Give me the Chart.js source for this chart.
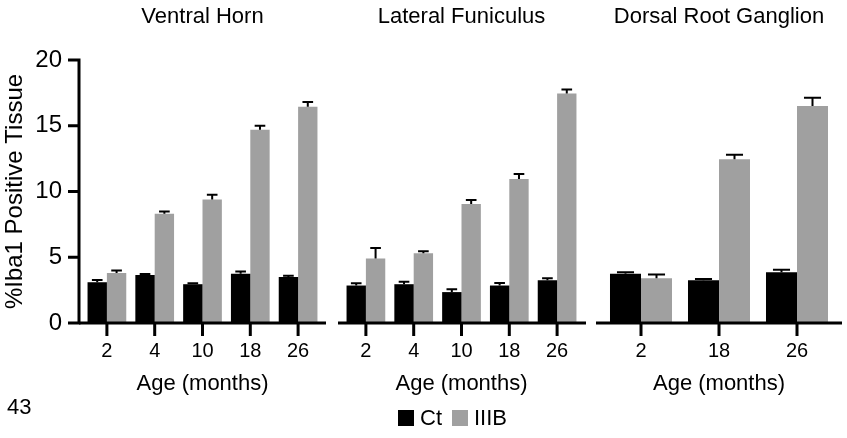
<!DOCTYPE html>
<html>
<head>
<meta charset="utf-8">
<script src="https://cdn.jsdelivr.net/npm/chart.js@4.4.1/dist/chart.umd.min.js"></script>
<style>
  html, body { margin: 0; padding: 0; background: #ffffff; }
  #wrap { position: relative; width: 847px; height: 438px; overflow: hidden; font-family: "Liberation Sans", Arial, sans-serif; color: #000; }
  canvas { position: absolute; top: 0; }
  #pageno { position: absolute; left: 7px; top: 396px; font-size: 22px; line-height: 22px; }
  #legend { position: absolute; left: 398px; top: 406px; display: flex; align-items: center; font-size: 22px; line-height: 24px; }
  #legend .item { display: flex; align-items: center; margin-right: 10px; }
  #legend .box { width: 16px; height: 16px; margin-right: 6px; }
</style>
</head>
<body>
<div id="wrap">
  <canvas id="c1" width="330" height="438" style="left:0px"></canvas>
  <canvas id="c2" width="256" height="438" style="left:332px"></canvas>
  <canvas id="c3" width="257" height="438" style="left:590px"></canvas>
  <div id="pageno">43</div>
  <div id="legend"></div>
</div>
<script>
// ---------------- data ----------------
const seriesNames = ['Ct', 'IIIB'];
const panelTitles = ['Ventral Horn', 'Lateral Funiculus', 'Dorsal Root Ganglion'];
const xTitle = 'Age (months)';
const yTitle = '%Iba1 Positive Tissue';
const yTicks = [0, 5, 10, 15, 20];

const agesVH = ['2', '4', '10', '18', '26'];
const ctVH = [3.1, 3.65, 2.95, 3.75, 3.5];
const ctVHErr = [0.17, 0.08, 0.08, 0.17, 0.1];
const iiibVH = [3.8, 8.3, 9.4, 14.7, 16.45];
const iiibVHErr = [0.2, 0.18, 0.35, 0.3, 0.35];

const agesLF = ['2', '4', '10', '18', '26'];
const ctLF = [2.85, 2.95, 2.35, 2.85, 3.25];
const ctLFErr = [0.18, 0.18, 0.22, 0.2, 0.15];
const iiibLF = [4.9, 5.3, 9.05, 10.95, 17.45];
const iiibLFErr = [0.8, 0.15, 0.3, 0.38, 0.3];

const agesDRG = ['2', '18', '26'];
const ctDRG = [3.75, 3.25, 3.85];
const ctDRGErr = [0.1, 0.1, 0.2];
const iiibDRG = [3.4, 12.45, 16.5];
const iiibDRGErr = [0.28, 0.35, 0.62];

// ---------------- style ----------------
const FONT = '"Liberation Sans", Arial, sans-serif';
const colors = ['#000000', '#a0a0a0'];

// axes + error bars drawn through the chart's scales
const panelPlugin = {
  id: 'panelDecor',
  afterDatasetsDraw(chart, args, opts) {
    const ctx = chart.ctx;
    const { left, right, top, bottom } = chart.chartArea;
    const yScale = chart.scales.y;
    const xScale = chart.scales.x;
    ctx.save();
    ctx.strokeStyle = '#000';
    ctx.lineWidth = 2;
    chart.data.datasets.forEach((ds, di) => {
      const meta = chart.getDatasetMeta(di);
      meta.data.forEach((bar, i) => {
        const v = ds.data[i], e = ds.errors[i];
        const yTop = yScale.getPixelForValue(v + e);
        const yBar = yScale.getPixelForValue(v);
        const w = bar.width * 0.55;
        ctx.beginPath();
        ctx.moveTo(bar.x, yBar);
        ctx.lineTo(bar.x, yTop);
        ctx.moveTo(bar.x - w / 2, yTop);
        ctx.lineTo(bar.x + w / 2, yTop);
        ctx.stroke();
      });
    });
    ctx.lineWidth = 3;
    ctx.lineCap = 'butt';
    const extL = opts.extL, extR = opts.extR;
    ctx.beginPath();
    ctx.moveTo(left - extL, bottom);
    ctx.lineTo(right + extR, bottom);
    xScale.ticks.forEach((t, i) => {
      const px = xScale.getPixelForTick(i);
      ctx.moveTo(px, bottom);
      ctx.lineTo(px, bottom + 13);
    });
    ctx.stroke();
    if (opts.yAxis) {
      const ax = left - extL;
      ctx.beginPath();
      ctx.moveTo(ax, yScale.getPixelForValue(20) - 1.5);
      ctx.lineTo(ax, bottom + 1.5);
      yTicks.forEach(v => {
        const py = yScale.getPixelForValue(v);
        ctx.moveTo(ax - 11, py);
        ctx.lineTo(ax + 1.5, py);
      });
      ctx.stroke();
    }
    ctx.restore();
  }
};

function makePanel(canvasId, title, labels, ct, ctErr, iiib, iiibErr, opts) {
  const yAxis = opts.yAxis;
  return new Chart(document.getElementById(canvasId), {
    type: 'bar',
    data: {
      labels: labels,
      datasets: [
        { label: seriesNames[0], data: ct, errors: ctErr, backgroundColor: colors[0], borderWidth: 0,
          categoryPercentage: opts.catPct, barPercentage: 1.0 },
        { label: seriesNames[1], data: iiib, errors: iiibErr, backgroundColor: colors[1], borderWidth: 0,
          categoryPercentage: opts.catPct, barPercentage: 1.0 }
      ]
    },
    options: {
      responsive: false,
      animation: false,
      layout: { padding: { left: opts.padL, right: opts.padR, top: 0, bottom: 0 } },
      plugins: {
        legend: { display: false },
        tooltip: { enabled: false },
        title: {
          display: true, text: title, color: '#000', fullSize: false,
          font: { family: FONT, size: 22, weight: 'normal' },
          padding: { top: 4, bottom: 29.6 }
        },
        panelDecor: { extL: opts.extL, extR: opts.extR, yAxis: yAxis }
      },
      scales: {
        x: {
          type: 'category',
          offset: true,
          grid: { display: false, drawTicks: false, tickLength: 0 },
          border: { display: false },
          ticks: { color: '#000', font: { family: FONT, size: 20 }, padding: 16.5, maxRotation: 0, autoSkip: false },
          title: { display: true, text: xTitle, color: '#000', font: { family: FONT, size: 22 }, padding: { top: 0, bottom: 40.8 } },
          afterFit(s) { s.height = 115; }
        },
        y: {
          display: yAxis,
          min: 0, max: 20,
          grid: { display: false, drawTicks: false, tickLength: 0 },
          border: { display: false },
          ticks: { stepSize: 5, color: '#000', font: { family: FONT, size: 24 }, padding: 21 },
          title: { display: yAxis, text: yTitle, color: '#000', font: { family: FONT, size: 24 }, padding: { top: 1, bottom: 0 } },
          afterFit(s) { s.width = yAxis ? 83 : 0; }
        }
      }
    },
    plugins: [panelPlugin]
  });
}

const ch1 = makePanel('c1', panelTitles[0], agesVH, ctVH, ctVHErr, iiibVH, iiibVHErr,
  { yAxis: true, padL: 0, padR: 8, extL: 4, extR: 4, catPct: 0.81 });
const ch2 = makePanel('c2', panelTitles[1], agesLF, ctLF, ctLFErr, iiibLF, iiibLFErr,
  { yAxis: false, padL: 10, padR: 7, extL: 4, extR: 5, catPct: 0.81 });
const ch3 = makePanel('c3', panelTitles[2], agesDRG, ctDRG, ctDRGErr, iiibDRG, iiibDRGErr,
  { yAxis: false, padL: 12, padR: 11, extL: 6, extR: 6, catPct: 0.795 });

const legendEl = document.getElementById('legend');
ch2.data.datasets.forEach(ds => {
  const item = document.createElement('div');
  item.className = 'item';
  const box = document.createElement('span');
  box.className = 'box';
  box.style.background = ds.backgroundColor;
  const txt = document.createElement('span');
  txt.textContent = ds.label;
  item.appendChild(box);
  item.appendChild(txt);
  legendEl.appendChild(item);
});
</script>
</body>
</html>
